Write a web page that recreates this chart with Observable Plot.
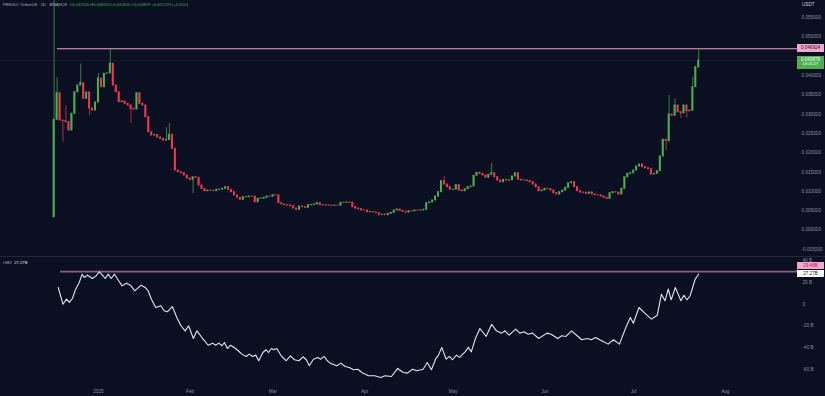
<!DOCTYPE html>
<html><head><meta charset="utf-8">
<script src="https://cdn.jsdelivr.net/npm/d3@7"></script>
<script src="https://cdn.jsdelivr.net/npm/@observablehq/plot@0.6"></script>
<style>
html,body{margin:0;padding:0;background:#0a0f22;}
#wrap{position:relative;width:825px;height:396px;overflow:hidden;background:#0a0f22;font-family:"Liberation Sans",Arial,sans-serif;}
#price{position:absolute;left:0;top:0;}
#obv{position:absolute;left:0;top:256px;border-top:1px solid #232838;}
.t{position:absolute;white-space:nowrap;line-height:1;}
.box{position:absolute;text-align:center;line-height:1;}
</style></head>
<body><div id="wrap"><div id="price"></div><div id="obv"></div></div>
<script>
// ---------- DATA ----------
const firstDay = "2024-12-17";            // first daily candle
const firstOpen = 0.00329;
const closes = [
0.02852,0.03541,0.02834,0.02816,0.02790,0.02575,0.03008,0.03567,0.03741,0.03801,
0.03396,0.03560,0.03145,0.03093,0.03301,0.03922,0.03697,0.04044,0.04052,0.04303,
0.03741,0.03567,0.03308,0.03326,0.03267,0.03223,0.03137,0.03119,0.03541,0.03267,
0.03223,0.02920,0.02531,0.02446,0.02460,0.02394,0.02360,0.02316,0.02330,0.02464,
0.02101,0.01539,0.01495,0.01469,0.01409,0.01332,0.01298,0.01365,0.01350,0.01150,
0.01065,0.01003,0.01021,0.01015,0.01003,0.01039,0.01045,0.01065,0.01106,0.01039,
0.00977,0.00891,0.00832,0.00780,0.00847,0.00850,0.00865,0.00862,0.00718,0.00806,
0.00810,0.00832,0.00865,0.00860,0.00899,0.00895,0.00692,0.00658,0.00640,0.00632,
0.00614,0.00554,0.00521,0.00606,0.00588,0.00573,0.00640,0.00645,0.00658,0.00692,
0.00640,0.00632,0.00635,0.00630,0.00624,0.00632,0.00628,0.00702,0.00700,0.00710,
0.00702,0.00588,0.00554,0.00536,0.00503,0.00500,0.00459,0.00462,0.00451,0.00433,
0.00391,0.00395,0.00381,0.00417,0.00443,0.00503,0.00528,0.00495,0.00469,0.00451,
0.00484,0.00480,0.00503,0.00500,0.00505,0.00521,0.00692,0.00710,0.00762,0.00865,
0.00977,0.01262,0.01176,0.01106,0.01039,0.01045,0.01158,0.01021,0.01003,0.01054,
0.01106,0.01124,0.01402,0.01480,0.01453,0.01409,0.01350,0.01427,0.01469,0.01365,
0.01280,0.01236,0.01298,0.01280,0.01285,0.01383,0.01469,0.01298,0.01280,0.01282,
0.01262,0.01236,0.01176,0.01106,0.01003,0.01021,0.01065,0.01054,0.01021,0.00951,
0.00917,0.00977,0.01021,0.01091,0.01210,0.01236,0.01106,0.01003,0.00969,0.00961,
0.00935,0.00969,0.00917,0.00899,0.00895,0.00865,0.00832,0.00806,0.00951,0.00977,
0.00969,0.00917,0.01065,0.01365,0.01453,0.01469,0.01539,0.01642,0.01694,0.01624,
0.01598,0.01573,0.01435,0.01453,0.01521,0.01902,0.02334,0.02298,0.02990,0.02956,
0.03223,0.03049,0.03023,0.03223,0.03075,0.03090,0.03697,0.04215,0.043879
];
// notable wicks (candle index -> extreme)
const wickHighIdx = [0,1,4,9,15,19,38,39,132,148,208,210,216,218];
const wickHighVal = [0.0700,0.0395,0.0322,0.0430,0.0405,0.0466,0.0265,0.0276,0.0138,0.0172,0.0348,0.0340,0.0396,0.046924];
const wickLowIdx = [3,12,26,47,207,212,214,218];
const wickLowVal = [0.0227,0.0296,0.0276,0.0094,0.0205,0.0289,0.0290,0.04185];

const yTickValues = [-0.005,0,0.005,0.01,0.015,0.02,0.025,0.03,0.035,0.04,0.05,0.055];
const highLevel = 0.046924;
const highRayStartDay = 1.1;

// OBV (billions): day offset from first candle, value
const obvDay = [1.4,3.0,4.2,5.2,6.2,7.3,8.5,9.5,10.2,11.3,13.0,14.2,15.3,16.6,17.3,18.3,19.3,20.4,21.5,23.0,
24.4,25.8,27.3,29.4,30.8,31.8,32.9,34.4,36.1,37.2,38.3,40.0,41.5,42.9,44.3,45.5,47.1,48.3,50.0,52.1,
53.6,54.6,55.7,56.8,57.6,58.6,59.7,61.4,63.5,65.0,66.0,67.1,68.2,69.2,70.6,71.7,72.5,73.5,74.2,75.3,
76.8,78.5,79.9,81.3,82.8,84.2,85.3,86.3,87.7,89.2,90.2,91.3,92.4,93.4,95.6,97.0,98.4,99.8,101.3,102.7,
104.1,106.3,108.4,110.5,111.9,114.1,116.2,118.1,119.5,121.2,122.6,124.8,126.2,127.6,129.0,130.0,131.1,132.6,133.7,134.7,
136.1,137.1,139.0,140.1,141.1,142.5,144.0,146.1,148.0,149.6,151.4,152.5,153.9,156.1,157.5,158.9,160.3,161.8,163.9,166.7,
168.1,170.3,171.7,173.1,175.0,176.7,178.4,180.3,181.7,183.1,185.2,187.4,189.2,191.2,193.5,194.9,195.9,197.8,199.5,202.0,
204.0,205.4,206.6,207.7,208.7,210.1,212.0,213.0,214.0,215.1,216.8,218.0];
const obvVal = [15.0,-0.2,4.4,1.4,5.0,13.5,19.5,27.1,24.1,26.2,23.2,25.6,29.3,25.6,23.2,27.1,23.2,27.1,22.5,16.5,
18.9,17.1,12.0,17.1,15.0,12.0,4.4,-3.2,-1.6,-6.2,-7.1,-2.3,-12.3,-19.8,-24.4,-19.8,-31.4,-24.4,-30.5,-37.5,
-35.6,-37.5,-35.6,-38.0,-35.0,-40.5,-37.5,-40.5,-45.6,-47.7,-45.6,-47.7,-46.5,-51.6,-44.1,-41.6,-44.1,-40.5,-41.6,-40.5,
-47.1,-51.6,-47.1,-50.7,-51.6,-48.0,-50.7,-56.2,-50.2,-48.6,-50.2,-47.7,-51.6,-53.8,-56.2,-53.8,-56.8,-57.7,-59.8,-59.3,
-62.3,-65.3,-65.3,-66.8,-65.3,-65.9,-58.6,-62.3,-62.9,-59.3,-60.7,-59.3,-53.2,-59.8,-50.2,-46.5,-39.5,-50.2,-47.7,-50.7,
-46.5,-48.6,-43.5,-39.5,-43.5,-31.4,-22.3,-29.5,-18.4,-24.4,-26.5,-24.4,-28.4,-22.9,-26.5,-25.3,-27.5,-26.5,-31.4,-26.5,
-27.5,-31.4,-28.9,-29.5,-24.4,-28.4,-32.5,-31.4,-32.5,-30.5,-33.5,-36.5,-32.5,-36.5,-20.5,-12.3,-17.5,-3.2,-7.7,-13.8,
-10.2,8.9,2.9,13.5,3.8,15.0,2.9,8.0,3.8,7.5,22.5,27.27];
const obvTicks = [-60,-40,-20,0,20,40];
const obvHighLevel = 29.48;
const obvRayStartDay = 2.2;

const monthTickDates = ["2025-01-01","2025-02-01","2025-03-01","2025-04-01","2025-05-01","2025-06-01","2025-07-01","2025-08-01"];
const monthTickLabels = ["2025","Feb","Mar","Apr","May","Jun","Jul","Aug"];

const headerSymbol = "PENGU / TetherUS · 1D · BINANCE";
const headerOHLC = "O0.042150 H0.046924 L0.041850 C0.043879 +0.001729 (+4.10%)";

// ---------- BUILD ----------
const DAY = 864e5;
const t0 = Date.parse(firstDay + "T00:00:00Z");
const dayDate = d => new Date(t0 + d * DAY);
const GREEN = "#4caf50", RED = "#ef3b4f";

const candles = closes.map((c, i) => {
  const o = i === 0 ? firstOpen : closes[i - 1];
  let h = Math.max(o, c), l = Math.min(o, c);
  const hi = wickHighIdx.indexOf(i); if (hi >= 0) h = Math.max(h, wickHighVal[hi]);
  const li = wickLowIdx.indexOf(i); if (li >= 0) l = Math.min(l, wickLowVal[li]);
  return {date: dayDate(i), x1: dayDate(i - 0.33), x2: dayDate(i + 0.33), open: o, close: c, high: h, low: l,
          color: c >= o ? GREEN : RED};
});
const obv = obvDay.map((d, i) => ({date: dayDate(d), v: obvVal[i]}));

const xDomain = [new Date("2024-11-28T21:00:00Z"), new Date("2025-08-25T10:00:00Z")];
const font = "Liberation Sans, Arial, sans-serif";

const priceChart = Plot.plot({
  width: 825, height: 257,
  marginLeft: 0, marginRight: 28, marginTop: 0, marginBottom: 0,
  style: {background: "transparent", color: "#8d92a0", fontSize: "4.7px", fontFamily: font},
  x: {type: "utc", domain: xDomain, axis: null},
  y: {domain: [-0.00715, 0.05943], axis: "right", ticks: yTickValues, tickFormat: d => d.toFixed(6),
      tickSize: 0, tickPadding: 4, label: null},
  color: {type: "identity"},
  marks: [
    Plot.ruleY([closes[closes.length - 1]], {stroke: GREEN, strokeOpacity: 0.35, strokeWidth: 0.6, strokeDasharray: "1,1.5"}),
    Plot.ruleY([highLevel], {x1: dayDate(highRayStartDay), x2: xDomain[1], stroke: "#eaa6c9", strokeWidth: 1.2}),
    Plot.ruleX(candles, {x: "date", y1: "low", y2: "high", stroke: "color", strokeWidth: 0.7, clip: true}),
    Plot.rect(candles, {x1: "x1", x2: "x2", y1: "open", y2: "close", fill: "color", insetTop: -0.5, insetBottom: -0.5, clip: true})
  ]
});
document.getElementById("price").append(priceChart);

const labelMap = new Map(monthTickDates.map((d, i) => [Date.parse(d + "T00:00:00Z"), monthTickLabels[i]]));
const obvChart = Plot.plot({
  width: 825, height: 139,
  marginLeft: 0, marginRight: 28, marginTop: 0, marginBottom: 13,
  style: {background: "transparent", color: "#8d92a0", fontSize: "4.7px", fontFamily: font},
  x: {type: "utc", domain: xDomain, axis: "bottom", ticks: monthTickDates.map(d => new Date(d + "T00:00:00Z")),
      tickFormat: d => labelMap.get(+d), tickSize: 0, tickPadding: 6, label: null},
  y: {domain: [-72.3, 42.27], axis: "right", ticks: obvTicks, tickFormat: d => d === 0 ? "0" : d + " B",
      tickSize: 0, tickPadding: 5, label: null},
  marks: [
    Plot.ruleY([obvHighLevel], {x1: dayDate(obvRayStartDay), x2: xDomain[1], stroke: "#8f5d86", strokeWidth: 1.8}),
    Plot.line(obv, {x: "date", y: "v", stroke: "#e3e5ec", strokeWidth: 1.1})
  ]
});
document.getElementById("obv").append(obvChart);

// ---------- overlays (positioned with the charts' own scales) ----------
const wrap = document.getElementById("wrap");
function add(cls, html, css) {
  const el = document.createElement("div"); el.className = cls; el.innerHTML = html;
  Object.assign(el.style, css); wrap.append(el); return el;
}
const py = priceChart.scale("y"), oy = obvChart.scale("y");
add("t", `<span style="color:#b2b5be">${headerSymbol}</span>&nbsp; <span style="color:${GREEN}">${headerOHLC}</span>`,
  {left: "3px", top: "2.5px", fontSize: "4px"});
add("t", "USDT", {left: "802px", top: "3px", fontSize: "4.6px", color: "#d1d4dc"});
const yh = py.apply(highLevel);
add("box", highLevel.toFixed(6), {left: "797px", top: (yh - 4) + "px", width: "27px", height: "8px", lineHeight: "8px",
  background: "#f2a7cb", color: "#131722", fontSize: "4.6px"});
const lastC = closes[closes.length - 1];
const yl = py.apply(lastC);
add("box", `${lastC.toFixed(6)}<br><span style="font-size:4px">03:41:27</span>`, {left: "797px", top: (yl - 4.5) + "px",
  width: "27px", height: "13px", paddingTop: "2px", boxSizing: "border-box", background: GREEN, color: "#ffffff", fontSize: "4.6px"});
const lastObv = obvVal[obvVal.length - 1];
const yo = 257 + oy.apply(lastObv);
add("box", lastObv.toFixed(2) + "B", {left: "797px", top: (yo - 3.5) + "px", width: "27px", height: "7px", lineHeight: "7px",
  background: "#ffffff", color: "#131722", fontSize: "4.6px"});
add("box", obvHighLevel.toFixed(2) + "B", {left: "797px", top: (yo - 11) + "px", width: "27px", height: "7px", lineHeight: "7px",
  background: "#f2a7cb", color: "#c2185b", fontSize: "4.6px"});
add("t", `<span style="color:#b2b5be">OBV</span>&nbsp; <span style="color:#e3e5ec">${lastObv.toFixed(2)}B</span>`,
  {left: "3px", top: "261px", fontSize: "4.2px"});
</script>
</body></html>
